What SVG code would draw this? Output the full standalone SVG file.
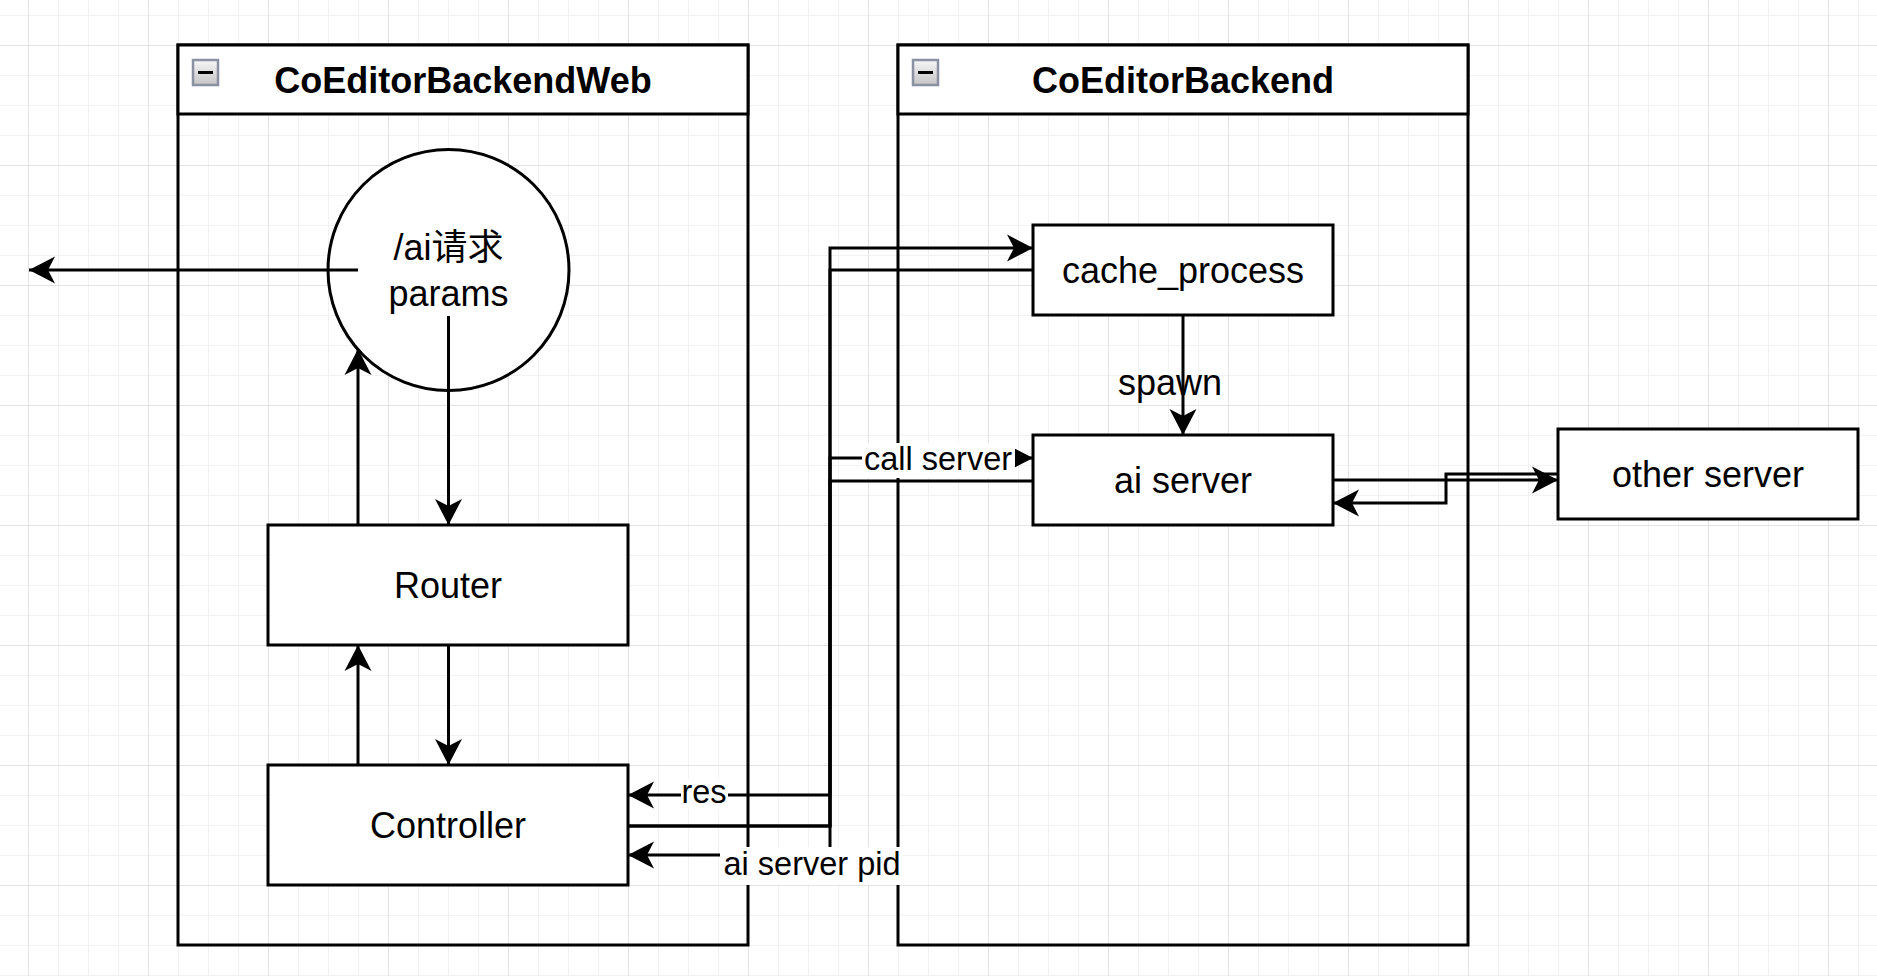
<svg xmlns="http://www.w3.org/2000/svg" width="1877" height="976" viewBox="0 0 1877 976">
<style>
  .txt { font-family: "Liberation Sans", Arial, "Noto Sans CJK SC", sans-serif; font-size: 36px; fill: #000; text-anchor: middle; }
  .title { font-weight: bold; }
  .lbl { font-family: "Liberation Sans", Arial, sans-serif; font-size: 32.5px; fill: #000; text-anchor: middle; }
  .box { fill: #fff; stroke: #000; stroke-width: 3; }
  .lane { fill: none; stroke: #000; stroke-width: 3; }
  .head { fill: #fff; stroke: #000; stroke-width: 3; }
  .edge { fill: none; stroke: #000; stroke-width: 3; }
  .arr { marker-end: url(#arrow); }
  .lblbg { fill: #fff; stroke: none; }
</style>
<defs>
  <pattern id="grid" x="28" y="45" width="120" height="120" patternUnits="userSpaceOnUse">
    <path d="M30.5 0V120M60.5 0V120M90.5 0V120M0 30.5H120M0 60.5H120M0 90.5H120" stroke="#f2f2f2" stroke-width="1" fill="none"/>
    <path d="M0.5 0V120M0 0.5H120" stroke="#e3e3e3" stroke-width="1" fill="none"/>
  </pattern>
  <linearGradient id="iconfill" x1="0" y1="0" x2="0" y2="1">
    <stop offset="0" stop-color="#f7f7f7"/>
    <stop offset="1" stop-color="#c4c4c4"/>
  </linearGradient>
  <marker id="arrow" markerUnits="userSpaceOnUse" markerWidth="28" markerHeight="28" refX="26" refY="13.5" orient="auto" overflow="visible">
    <path d="M26 13.5L0 0L7 13.5L0 27Z" fill="#000" stroke="none"/>
  </marker>
</defs>
<rect x="0" y="0" width="1877" height="976" fill="#fff"/>
<rect x="0" y="0" width="1877" height="976" fill="url(#grid)"/>

<g id="lane-web">
  <rect class="lane" x="178" y="45" width="570" height="900"/>
  <rect class="head" x="178" y="45" width="570" height="69"/>
  <rect x="193" y="60" width="25" height="25" fill="url(#iconfill)" stroke="#8a91a2" stroke-width="2.5"/>
  <rect x="198" y="71" width="15" height="3" fill="#000"/>
  <text class="txt title" x="463" y="93">CoEditorBackendWeb</text>
</g>

<g id="lane-backend">
  <rect class="lane" x="898" y="45" width="570" height="900"/>
  <rect class="head" x="898" y="45" width="570" height="69"/>
  <rect x="913" y="60" width="25" height="25" fill="url(#iconfill)" stroke="#8a91a2" stroke-width="2.5"/>
  <rect x="918" y="71" width="15" height="3" fill="#000"/>
  <text class="txt title" x="1183" y="93">CoEditorBackend</text>
</g>

<g id="node-ai-request">
  <circle class="box" cx="448.5" cy="270" r="120.5"/>
  <text class="txt" x="448.5" y="259.5">/ai请求</text>
  <text class="txt" x="448.5" y="305.5">params</text>
</g>

<g id="node-router">
  <rect class="box" x="268" y="525" width="360" height="120"/>
  <text class="txt" x="448" y="597.5">Router</text>
</g>

<g id="node-controller">
  <rect class="box" x="268" y="765" width="360" height="120"/>
  <text class="txt" x="448" y="837.5">Controller</text>
</g>

<g id="node-cache-process">
  <rect class="box" x="1033" y="225" width="300" height="90"/>
  <text class="txt" x="1183" y="282.5">cache_process</text>
</g>

<g id="node-ai-server">
  <rect class="box" x="1033" y="435" width="300" height="90"/>
  <text class="txt" x="1183" y="492.5">ai server</text>
</g>

<g id="node-other-server">
  <rect class="box" x="1558" y="429" width="300" height="90"/>
  <text class="txt" x="1708" y="486.5">other server</text>
</g>

<g id="connectors">
  <path class="edge arr" d="M358 270H29"/>
  <path class="edge arr" d="M448.5 316V525"/>
  <path class="edge arr" d="M358 525V349"/>
  <path class="edge arr" d="M448.5 645V765"/>
  <path class="edge arr" d="M358 765V645"/>
  <path class="edge arr" d="M628 826H830V248H1033"/>
  <path class="edge arr" d="M628 826H830V458H1033"/>
  <path class="edge arr" d="M1033 270H830V855H628"/>
  <path class="edge arr" d="M1033 481H830V795H628"/>
  <path class="edge arr" d="M1183 315V435"/>
  <path class="edge arr" d="M1333 480H1558"/>
  <path class="edge arr" d="M1558 474H1446V503H1333"/>

  <rect class="lblbg" x="862" y="443" width="153" height="35"/>
  <text class="lbl" x="938" y="470">call server</text>
  <rect class="lblbg" x="681" y="779" width="47" height="30"/>
  <text class="lbl" x="704" y="803">res</text>
  <rect class="lblbg" x="720" y="847" width="183" height="38"/>
  <text class="lbl" x="812" y="875">ai server pid</text>
  <text class="txt" x="1170" y="395">spawn</text>
</g>
</svg>
